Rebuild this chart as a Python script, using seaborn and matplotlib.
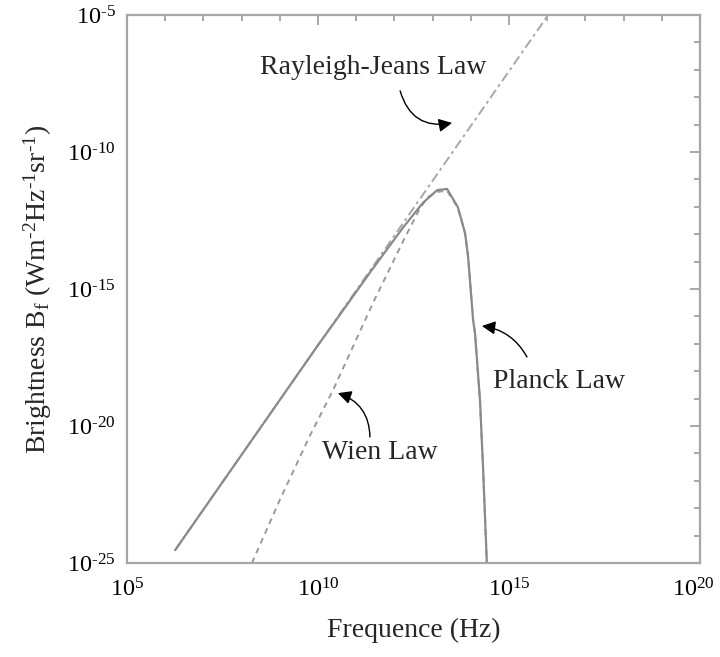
import numpy as np
import pandas as pd
import matplotlib
matplotlib.use("Agg")
import matplotlib.pyplot as plt
import matplotlib.transforms as mtransforms
import seaborn as sns
from matplotlib.ticker import FixedLocator, NullFormatter

# log10 of frequency (Hz) and log10 of brightness (W m^-2 Hz^-1 sr^-1)
planck_logf = [6.26, 7.5, 8.75, 10.0, 10.5, 11.36, 12.23, 12.75, 13.12, 13.38,
               13.66, 13.85, 13.93, 14.06, 14.11, 14.24, 14.32, 14.42]
planck_logb = [-24.53, -22.05, -19.55, -17.05, -16.08, -14.40, -12.75, -11.85, -11.39, -11.35,
               -12.01, -12.96, -13.83, -16.13, -16.61, -19.05, -21.50, -25.0]

wien_logf = [8.27, 9.0, 9.79, 10.39, 10.89, 11.49, 11.81, 12.23, 12.67, 12.88,
             13.15, 13.38, 13.66, 13.85, 13.93, 14.06, 14.11, 14.24, 14.32, 14.42]
wien_logb = [-25.0, -22.70, -20.35, -18.70, -17.18, -15.36, -14.45, -13.25, -12.05, -11.64,
             -11.45, -11.42, -12.03, -12.97, -13.84, -16.14, -16.62, -19.06, -21.51, -25.0]

rj_logf = [6.26, 8.0, 10.0, 12.0, 14.0, 16.1]
rj_logb = [-24.53, -21.05, -17.05, -13.05, -9.05, -4.85]

x_major = [5, 10, 15, 20]
y_major = [-25, -20, -15, -10, -5]


def power_label(e):
    # superscript with a plain hyphen rather than a math minus
    exp = str(e).replace("-", r"\text{-}")
    return f"$10^{{{exp}}}$"


sns.set_style("white")
plt.rcParams["font.family"] = ["Liberation Serif", "DejaVu Serif"]
plt.rcParams["mathtext.fontset"] = "custom"
plt.rcParams["mathtext.rm"] = "Liberation Serif"
plt.rcParams["mathtext.it"] = "Liberation Serif:italic"
plt.rcParams["mathtext.default"] = "regular"

fig = plt.figure(figsize=(7.2, 6.57), dpi=100)
ax = fig.add_axes([127 / 720, 1 - 563 / 657, 573 / 720, 548 / 657])

planck = pd.DataFrame({"f": np.power(10.0, planck_logf), "b": np.power(10.0, planck_logb)})
wien = pd.DataFrame({"f": np.power(10.0, wien_logf), "b": np.power(10.0, wien_logb)})
rj = pd.DataFrame({"f": np.power(10.0, rj_logf), "b": np.power(10.0, rj_logb)})

sns.lineplot(data=rj, x="f", y="b", ax=ax, estimator=None, sort=False,
             color="#a8a8a8", lw=1.4)
ax.lines[-1].set_dashes([5, 2, 1.5, 2])
sns.lineplot(data=wien, x="f", y="b", ax=ax, estimator=None, sort=False,
             color="#9a9a9a", lw=1.4)
ax.lines[-1].set_dashes([3, 2.5])
sns.lineplot(data=planck, x="f", y="b", ax=ax, estimator=None, sort=False,
             color="#8a8a8a", lw=1.6)

ax.set_xscale("log")
ax.set_yscale("log")
ax.set_xlim(1e5, 1e20)
ax.set_ylim(1e-25, 1e-5)

ax.xaxis.set_major_locator(FixedLocator([10.0 ** e for e in x_major]))
ax.xaxis.set_minor_locator(FixedLocator([10.0 ** e for e in range(5, 21) if e not in x_major]))
ax.yaxis.set_major_locator(FixedLocator([10.0 ** e for e in y_major]))
ax.yaxis.set_minor_locator(FixedLocator([10.0 ** e for e in range(-25, -4) if e not in y_major]))
ax.xaxis.set_minor_formatter(NullFormatter())
ax.yaxis.set_minor_formatter(NullFormatter())
ax.set_xticklabels([power_label(e) for e in x_major])
ax.set_yticklabels([power_label(e) for e in y_major])

ax.tick_params(which="both", direction="in", top=True, right=True,
               color="#a0a0a0", labelcolor="black", labelsize=17.5)
ax.tick_params(which="major", length=7, width=1.3)
ax.tick_params(which="minor", length=4, width=1.3)
ax.tick_params(axis="x", which="major", pad=11)
ax.tick_params(axis="y", which="major", pad=8)
for s in ax.spines.values():
    s.set_color("#a6a6a6")
    s.set_linewidth(1.6)

# nudge the rightmost frequency label so it stays inside the figure
last = ax.get_xticklabels()[-1]
last.set_transform(last.get_transform()
                   + mtransforms.ScaledTranslation(-5 / 72, 0, fig.dpi_scale_trans))

ax.set_xlabel("Frequence (Hz)", fontsize=20, labelpad=12)
ax.set_ylabel(r"Brightness B$_\mathrm{f}$ (Wm$^{\text{-}2}$Hz$^{\text{-}1}$sr$^{\text{-}1}$)",
              fontsize=20, labelpad=10)

arrow = dict(arrowstyle="-|>", color="black", lw=1.0, mutation_scale=20,
             shrinkA=0, shrinkB=0)

ax.text(10 ** 11.44, 10 ** -6.9, "Rayleigh-Jeans Law", fontsize=20, ha="center", va="center")
ax.annotate("", xy=(10 ** 13.51, 10 ** -8.94), xytext=(10 ** 12.15, 10 ** -7.77),
            arrowprops=dict(arrow, connectionstyle="arc3,rad=0.45"))

ax.text(10 ** 14.58, 10 ** -18.39, "Planck Law", fontsize=20, ha="left", va="center")
ax.annotate("", xy=(10 ** 14.29, 10 ** -16.35), xytext=(10 ** 15.47, 10 ** -17.48),
            arrowprops=dict(arrow, connectionstyle="arc3,rad=0.25"))

ax.text(10 ** 11.62, 10 ** -20.95, "Wien Law", fontsize=20, ha="center", va="center")
ax.annotate("", xy=(10 ** 10.52, 10 ** -18.80), xytext=(10 ** 11.36, 10 ** -20.40),
            arrowprops=dict(arrow, connectionstyle="arc3,rad=0.35"))

fig.savefig("out.png", dpi=100)
